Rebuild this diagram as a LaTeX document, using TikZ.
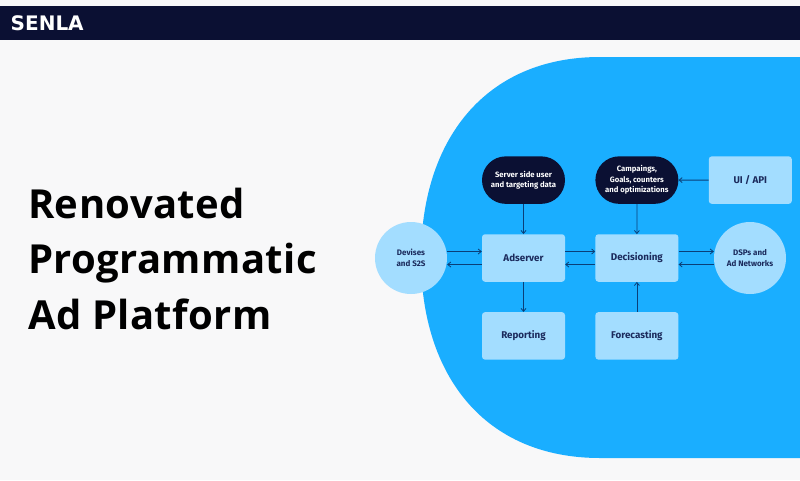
\documentclass[tikz,border=0pt]{standalone}
\usepackage{xcolor}
\usepackage{fontspec}
\setmainfont{Fira Sans}
\newfontfamily\titlefont[LetterSpace=1]{Open Sans}
\newfontfamily\logofont{DejaVu Sans}
\usetikzlibrary{arrows.meta,positioning,shapes.misc}
\definecolor{pagegrey}{HTML}{F8F8F9}
\definecolor{barnavy}{HTML}{0B1033}
\definecolor{skyblue}{HTML}{1AAEFF}
\definecolor{paleblue}{HTML}{A3DDFF}
\definecolor{inktext}{HTML}{1B2A5C}
\definecolor{arrowink}{HTML}{0A3F78}

\begin{document}
\begin{tikzpicture}
    [
    x=1pt, y=-1pt,
    node distance = 30pt and 30pt,
    box/.style = {fill=paleblue, rectangle, minimum width=83pt, minimum height=47.5pt, inner sep=0pt, align=center, rounded corners=3pt, text=inktext, font=\fontsize{9.8}{12}\selectfont\bfseries},
    pill/.style = {fill=barnavy, rounded rectangle, minimum width=83pt, minimum height=47.5pt, inner sep=0pt, align=center, text=white, font=\fontsize{7.7}{10.5}\selectfont\bfseries},
    disc/.style = {fill=paleblue, circle, minimum size=72pt, inner sep=0pt, align=center, text=inktext, font=\fontsize{8}{10.5}\selectfont\bfseries},
    arrow/.style = {-{Straight Barb[length=3pt,width=5pt]}, line width=0.8pt, draw=arrowink},
    title/.style = {anchor=base west, inner sep=0pt, font=\titlefont\fontsize{40}{44}\selectfont\bfseries, text=black}
    ]

% Background
    \fill[pagegrey] (0,0) rectangle (800,480);
    \fill[barnavy] (0,6) rectangle (800,40);
    \fill[skyblue] (800,57) -- (600,57) .. controls (485,57) and (421,140) .. (421,258) .. controls (421,376) and (485,458) .. (600,458) -- (800,458) -- cycle;
    \node[anchor=base west, inner sep=0pt, text=white, font=\logofont\fontsize{20}{20}\selectfont\bfseries] (logo) at (10.5,30) {SENLA};

% Title
    \node[title] (line1) at (28,218) {Renovated};
    \node[title] (line2) at (28,273.5) {Programmatic};
    \node[title] (line3) at (28,329.5) {Ad Platform};

% Nodes
    \node[box] (adserver) at (523.5,258) {Adserver};
    \node[box, right=of adserver] (decisioning) {Decisioning};
    \node[box, below=of adserver] (reporting) {Reporting};
    \node[box, below=of decisioning] (forecasting) {Forecasting};
    \node[pill, above=of adserver] (userdata) {Server side user\\and targeting data};
    \node[pill, above=of decisioning] (campaigns) {Campaings,\\Goals, counters\\and optimizations};
    \node[box, right=of campaigns] (uiapi) {UI / API};
    \node[disc] (devises) at (411,258) {Devises\\and S2S};
    \node[disc] (dsps) at (750,258) {DSPs and\\Ad Networks};

% Arrows
    \draw[arrow] ([yshift=6.5pt]devises.east) -- ([yshift=6.5pt]adserver.west);
    \draw[arrow] ([yshift=-6.5pt]adserver.west) -- ([yshift=-6.5pt]devises.east);
    \draw[arrow] ([yshift=6.5pt]adserver.east) -- ([yshift=6.5pt]decisioning.west);
    \draw[arrow] ([yshift=-6.5pt]decisioning.west) -- ([yshift=-6.5pt]adserver.east);
    \draw[arrow] ([yshift=6.5pt]decisioning.east) -- ([yshift=6.5pt]dsps.west);
    \draw[arrow] ([yshift=-6.5pt]dsps.west) -- ([yshift=-6.5pt]decisioning.east);
    \draw[arrow] (userdata) -- (adserver);
    \draw[arrow] (campaigns) -- (decisioning);
    \draw[arrow] (adserver) -- (reporting);
    \draw[arrow] (forecasting) -- (decisioning);
    \draw[arrow] (uiapi) -- (campaigns);

\end{tikzpicture}
\end{document}
